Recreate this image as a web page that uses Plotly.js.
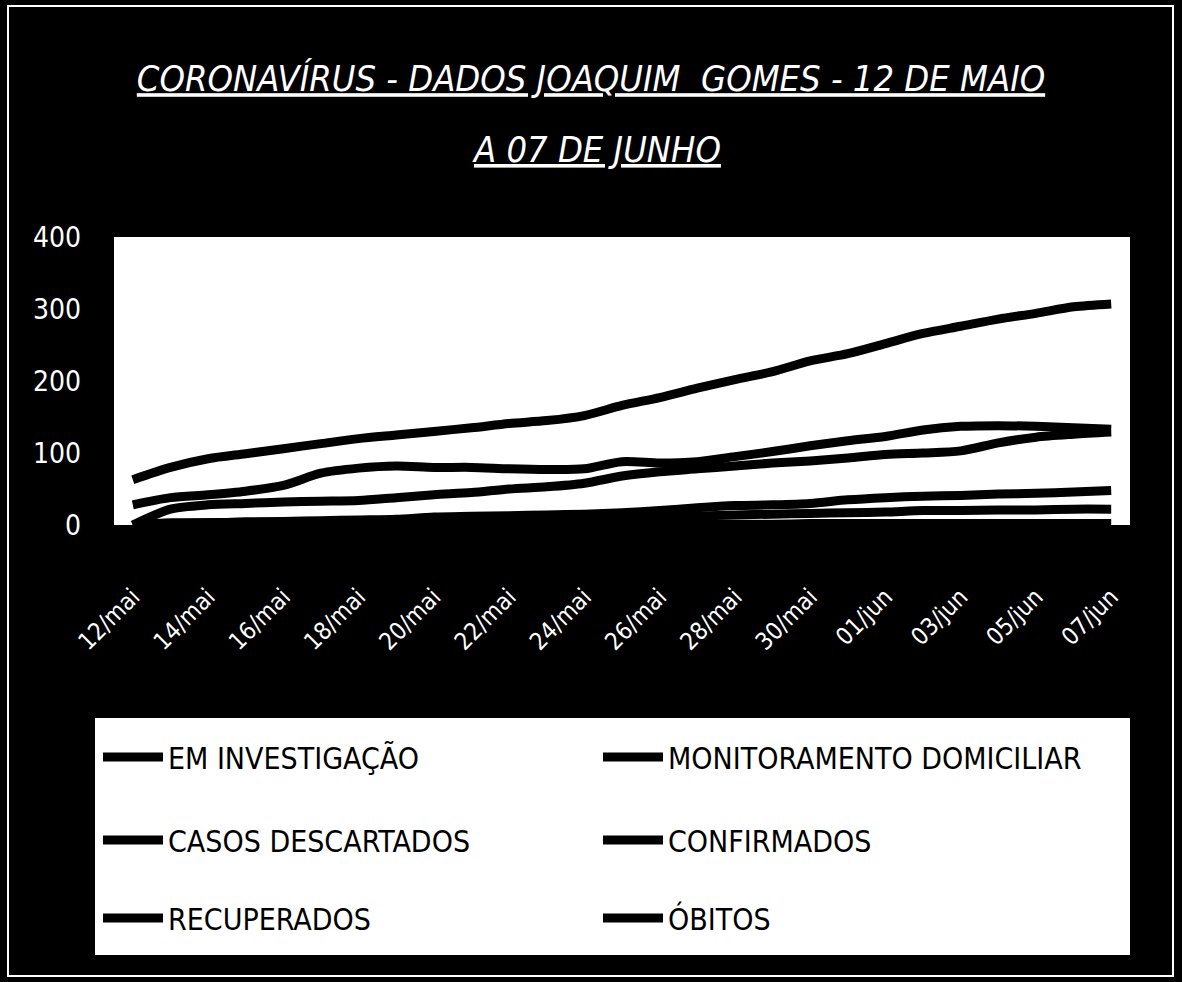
<!DOCTYPE html>
<html><head><meta charset="utf-8">
<script src="https://cdn.plot.ly/plotly-3.0.1.min.js"></script>
<style>html,body{margin:0;padding:0;background:#000;} #chart{width:1182px;height:982px;}</style>
</head><body><div id="chart"></div>
<script>
// ---- data ----
const dates = ['12/mai','13/mai','14/mai','15/mai','16/mai','17/mai','18/mai','19/mai','20/mai','21/mai',
  '22/mai','23/mai','24/mai','25/mai','26/mai','27/mai','28/mai','29/mai','30/mai','31/mai',
  '01/jun','02/jun','03/jun','04/jun','05/jun','06/jun','07/jun'];
const tickLabels = ['12/mai','14/mai','16/mai','18/mai','20/mai','22/mai','24/mai','26/mai','28/mai','30/mai','01/jun','03/jun','05/jun','07/jun'];
const emInvestigacao = [0,3,3,4,4,5,5,6,6,7,8,8,9,10,10,12,14,15,16,17,18,20,20,21,21,22,22];
const monitoramento = [0,22,28,30,32,33,34,38,42,45,50,53,58,68,74,78,82,86,89,93,98,100,103,114,122,126,129];
const descartados = [63,80,92,99,106,113,120,125,130,135,141,145,152,166,177,190,202,213,228,238,252,266,276,286,294,303,307];
const confirmados = [28,38,42,47,55,72,79,82,80,80,78,77,78,88,86,88,95,102,110,117,123,132,137,138,137,135,133];
const recuperados = [0,2,3,4,5,6,7,8,11,12,13,14,15,17,20,24,27,28,30,35,38,40,41,43,44,46,48];
const obitos = [0,0,0,0,0,0,0,0,0,0,1,1,1,1,1,1,1,1,2,2,2,2,2,2,2,2,2];
const yTicks = [0,100,200,300,400];
const titleLine1 = 'CORONAVÍRUS - DADOS JOAQUIM  GOMES - 12 DE MAIO';
const titleLine2 = 'A 07 DE JUNHO';

// ---- geometry (pixels) ----
const WIDTH = 1182, HEIGHT = 982;
const L = 114, R = 1130, T = 237, B = 525;
const PW = R - L, PH = B - T;
const px = v => (v - L) / PW;
const py = v => (B - v) / PH;

const FONT = '"DejaVu Sans Condensed", "Liberation Sans Narrow", "DejaVu Sans", sans-serif';

const series = [
  {name: 'EM INVESTIGAÇÃO', y: emInvestigacao, legend: 'legend'},
  {name: 'MONITORAMENTO DOMICILIAR', y: monitoramento, legend: 'legend'},
  {name: 'CASOS DESCARTADOS', y: descartados, legend: 'legend2'},
  {name: 'CONFIRMADOS', y: confirmados, legend: 'legend2'},
  {name: 'RECUPERADOS', y: recuperados, legend: 'legend3'},
  {name: 'ÓBITOS', y: obitos, legend: 'legend3'}
];

const traces = series.map(s => ({
  type: 'scatter', mode: 'lines', x: dates, y: s.y, name: s.name, legend: s.legend,
  line: {color: '#000', width: 9, shape: 'spline', smoothing: 0.8},
  hoverinfo: 'skip'
}));

function legendAt(rowY) {
  return {
    orientation: 'h', x: px(98), xanchor: 'left', y: py(rowY), yanchor: 'middle',
    bgcolor: 'rgba(0,0,0,0)', borderwidth: 0,
    font: {family: FONT, size: 30, color: '#000'},
    itemwidth: 60, entrywidth: 425, entrywidthmode: 'pixels', traceorder: 'normal'
  };
}

const layout = {
  width: WIDTH, height: HEIGHT,
  paper_bgcolor: '#000', plot_bgcolor: '#fff',
  margin: {l: L, r: WIDTH - R, t: T, b: HEIGHT - B, pad: 0},
  title: {
    text: '<i><u>' + titleLine1 + '</u></i>',
    font: {family: FONT, size: 36, color: '#fff'},
    x: 0.5, xref: 'container', xanchor: 'center', y: 1 - 66 / HEIGHT, yref: 'container', yanchor: 'top'
  },
  annotations: [{
    text: '<i><u>' + titleLine2 + '</u></i>', showarrow: false,
    font: {family: FONT, size: 36, color: '#fff'},
    xref: 'paper', yref: 'paper', x: px(596), xanchor: 'center', y: py(149), yanchor: 'middle'
  }],
  xaxis: {
    type: 'category', tickmode: 'array', tickvals: tickLabels, ticktext: tickLabels,
    tickangle: -45, tickfont: {family: FONT, size: 24, color: '#fff'},
    showgrid: false, zeroline: false, showline: false, ticks: '', ticklabelstandoff: 52,
    range: [-0.5, dates.length - 0.5], fixedrange: true
  },
  yaxis: {
    range: [0, 400], tickvals: yTicks, ticktext: yTicks.map(String),
    tickfont: {family: FONT, size: 28, color: '#fff'},
    showgrid: false, zeroline: false, showline: false, ticks: '', ticklabelstandoff: 32, fixedrange: true
  },
  showlegend: true,
  legend: legendAt(757),
  legend2: legendAt(840),
  legend3: legendAt(918),
  shapes: [
    {type: 'rect', xref: 'paper', yref: 'paper', x0: px(95), x1: px(1130), y0: py(718), y1: py(955),
     fillcolor: '#fff', line: {width: 0}, layer: 'below'},
    {type: 'rect', xref: 'paper', yref: 'paper', x0: px(8), x1: px(1173), y0: py(6), y1: py(976),
     fillcolor: 'rgba(0,0,0,0)', line: {color: '#fff', width: 2}, layer: 'below'}
  ]
};

Plotly.newPlot('chart', traces, layout, {displayModeBar: false, staticPlot: true});
</script></body></html>
